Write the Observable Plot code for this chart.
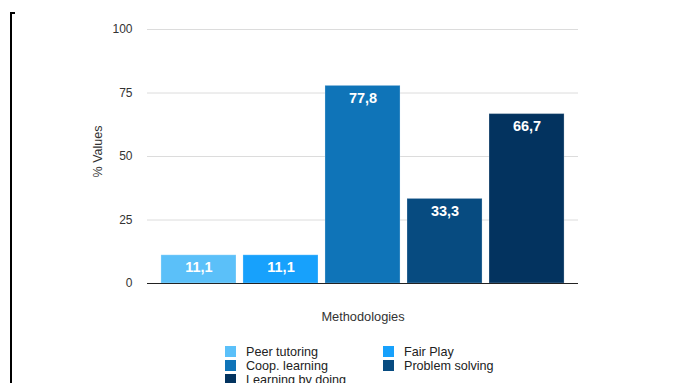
<!DOCTYPE html>
<html>
<head>
<meta charset="utf-8">
<script src="https://cdn.jsdelivr.net/npm/d3@7"></script>
<script src="https://cdn.jsdelivr.net/npm/@observablehq/plot@0.6"></script>
<style>
  html, body { margin: 0; padding: 0; background: #fff; overflow: hidden; }
  #wrap { position: relative; width: 688px; height: 383px; font-family: "Liberation Sans", Arial, Helvetica, sans-serif; }
  #frame { position: absolute; left: 10px; top: 12px; width: 3px; height: 380px; border-left: 2px solid #000; border-top: 2px solid #000; }
  #legend { position: absolute; left: 225px; top: 346px; display: grid; grid-template-columns: 158px 160px; row-gap: 3px; font-size: 12.6px; color: #222; }
  .item { display: flex; align-items: center; height: 11px; white-space: nowrap; }
  .sw { width: 11px; height: 11px; margin-right: 10px; flex: none; }
</style>
</head>
<body>
<div id="wrap">
  <div id="chart"></div>
  <div id="frame"></div>
  <div id="legend"></div>
</div>
<script>
const categories = ["Peer tutoring", "Fair Play", "Coop. learning", "Problem solving", "Learning by doing"];
const values = [11.1, 11.1, 77.8, 33.3, 66.7];
const colors = ["#5bc0f9", "#17a1fc", "#0f74b8", "#074b80", "#03335f"];
const yTicks = [0, 25, 50, 75, 100];
const yLabel = "% Values";
const xLabel = "Methodologies";

const data = categories.map((c, i) => ({cat: c, value: values[i], label: values[i].toFixed(1).replace(".", ",")}));

const chart = Plot.plot({
  width: 688,
  height: 383,
  marginTop: 29,
  marginBottom: 100,
  marginLeft: 147,
  marginRight: 110,
  style: {fontFamily: '"Liberation Sans", Arial, Helvetica, sans-serif', background: "transparent"},
  x: {domain: categories, paddingInner: 0.085, paddingOuter: 0.17, round: false, axis: null},
  y: {domain: [0, 100], axis: null},
  color: {domain: categories, range: colors},
  marks: [
    Plot.gridY(yTicks, {stroke: "#dcdcdc", strokeOpacity: 1}),
    Plot.axisY(yTicks, {tickSize: 0, tickPadding: 15, label: null, fontSize: 12, fill: "#333"}),
    Plot.barY(data, {x: "cat", y: "value", fill: "cat", stroke: "#ffffff", strokeOpacity: 0.25}),
    Plot.ruleY([0], {stroke: "#222", strokeWidth: 1}),
    Plot.text(data, {x: "cat", y: "value", text: "label", dy: 12, lineAnchor: "middle", fill: "white", fontWeight: "bold", fontSize: 14.5}),
    Plot.text([yLabel], {frameAnchor: "left", dx: -50, dy: -5, rotate: -90, textAnchor: "middle", lineAnchor: "middle", fontSize: 12.5, fill: "#333"}),
    Plot.text([xLabel], {frameAnchor: "bottom", dy: 33, textAnchor: "middle", lineAnchor: "middle", fontSize: 12.8, fill: "#333"})
  ]
});
document.getElementById("chart").appendChild(chart);

const legend = document.getElementById("legend");
categories.forEach((c, i) => {
  const item = document.createElement("div");
  item.className = "item";
  const sw = document.createElement("span");
  sw.className = "sw";
  sw.style.background = colors[i];
  const t = document.createElement("span");
  t.textContent = c;
  item.appendChild(sw);
  item.appendChild(t);
  legend.appendChild(item);
});
</script>
</body>
</html>
